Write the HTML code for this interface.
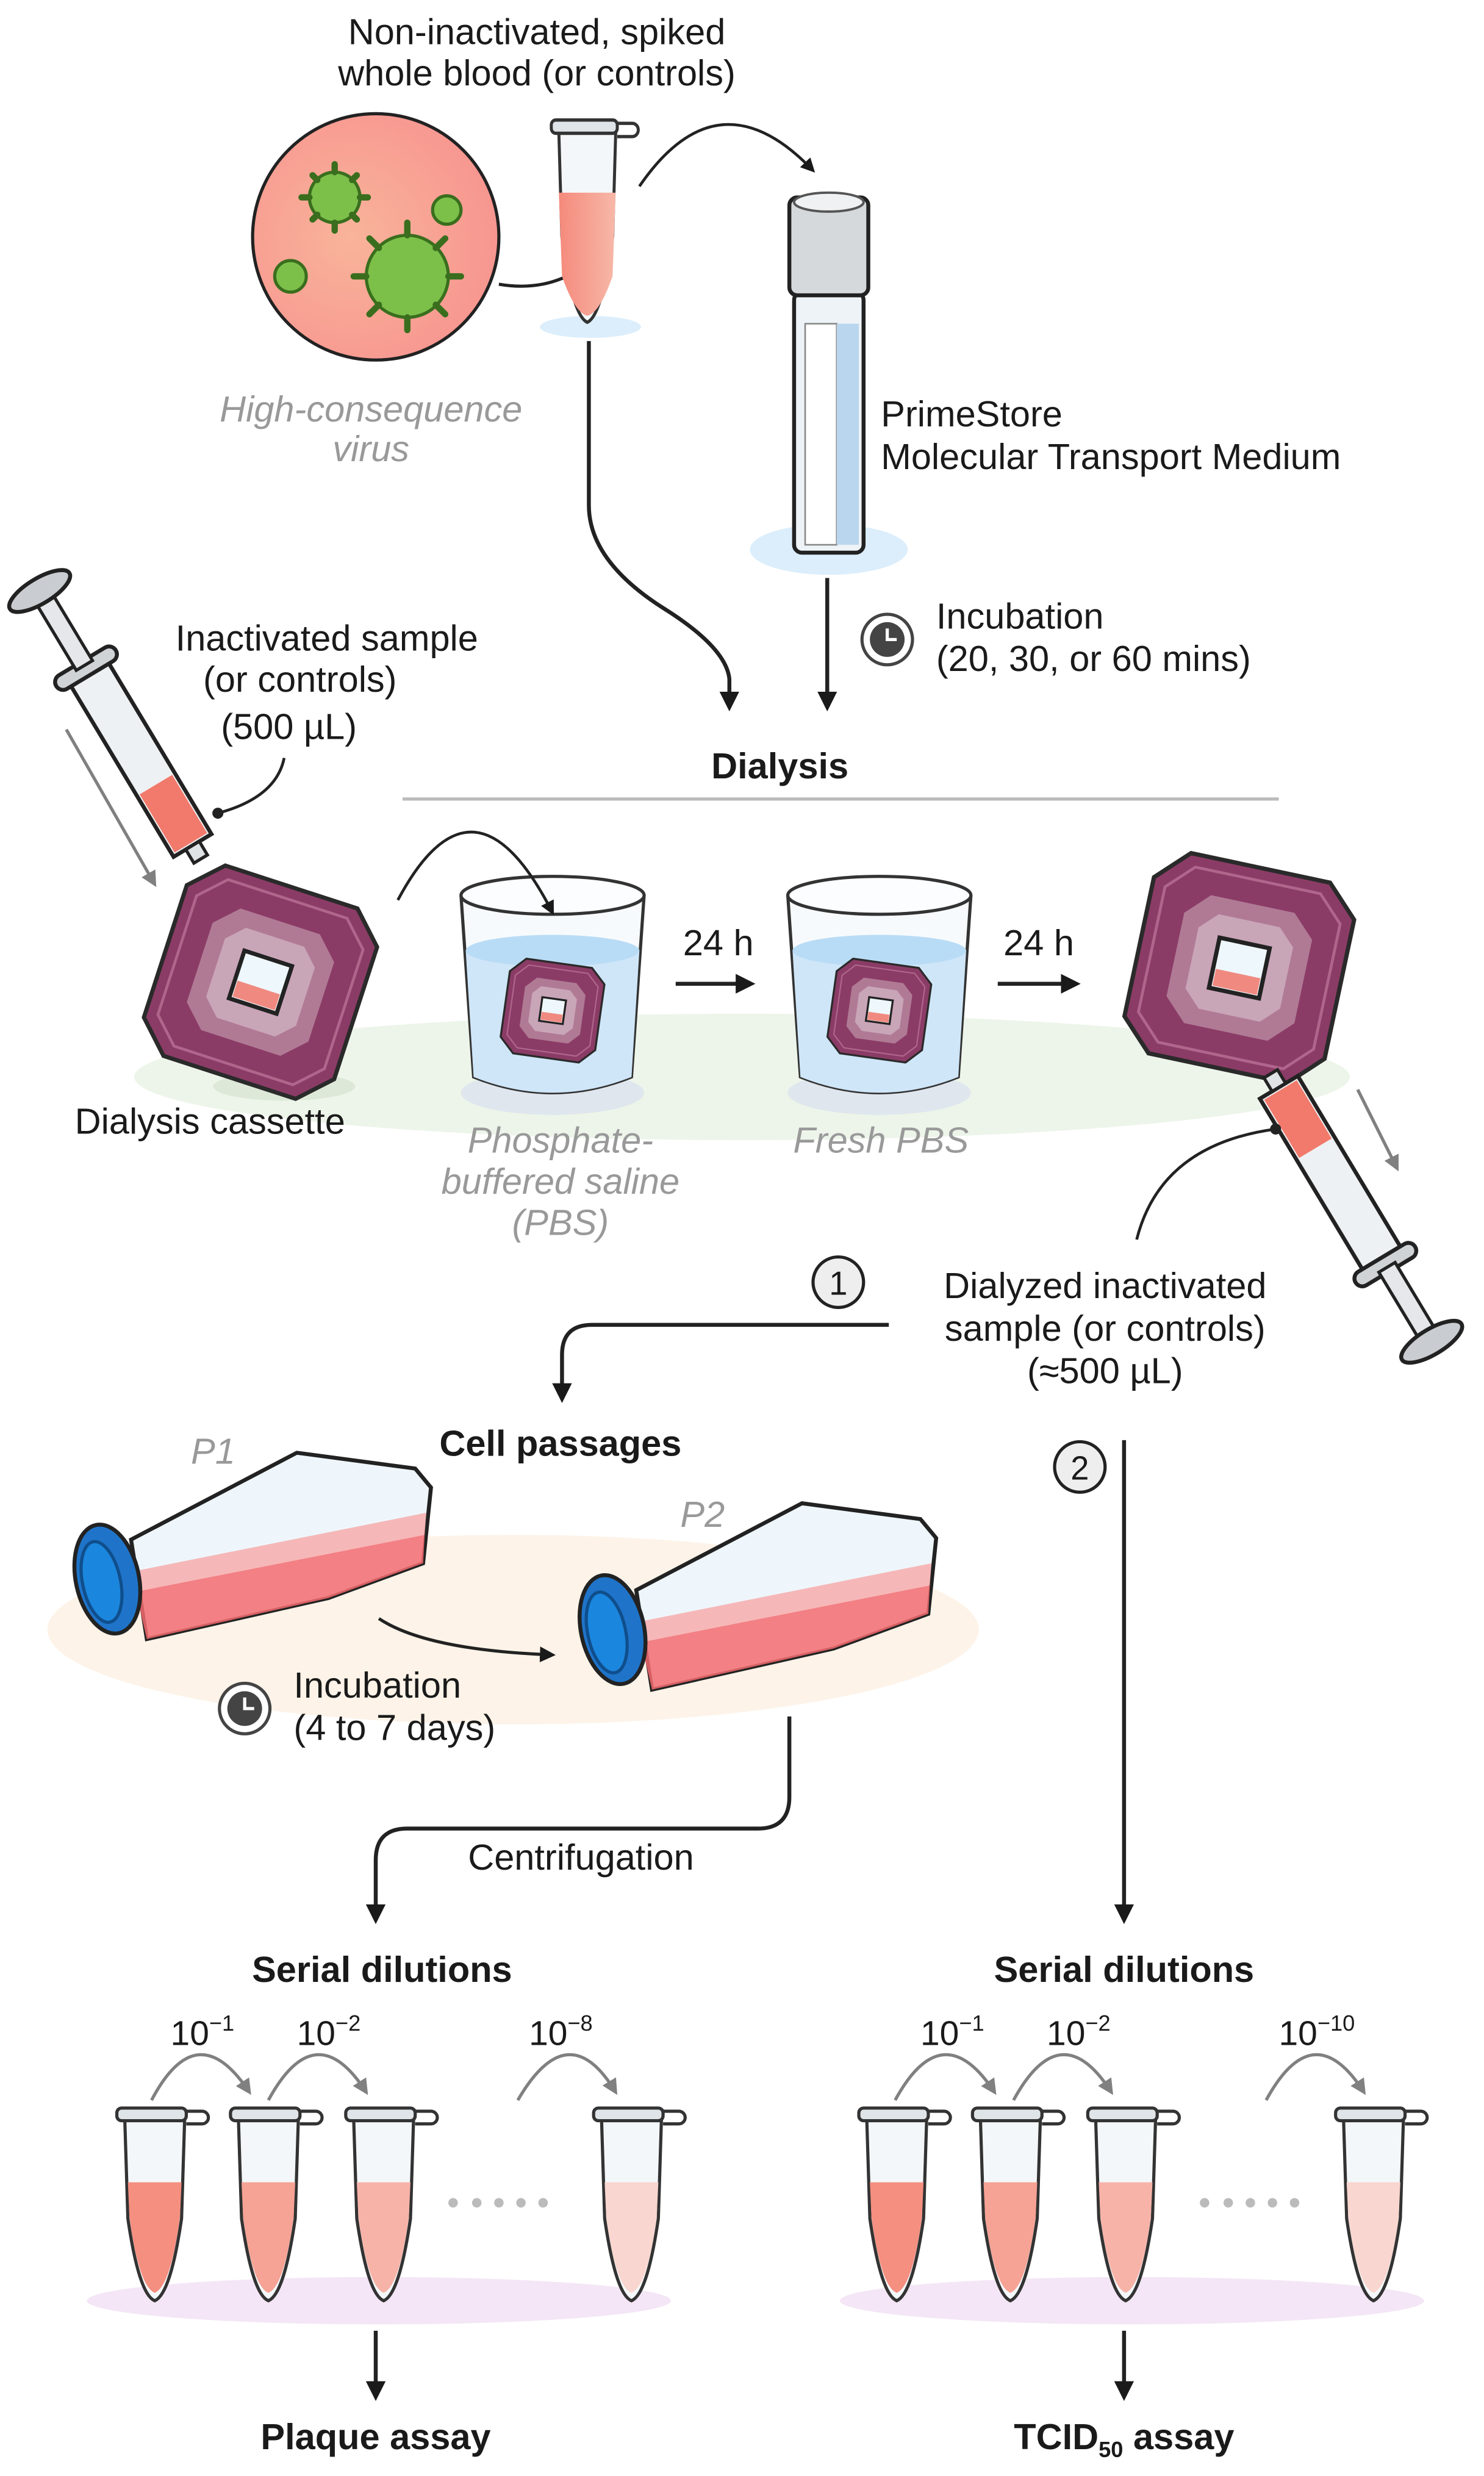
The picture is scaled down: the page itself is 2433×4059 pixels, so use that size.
<!DOCTYPE html>
<html><head><meta charset="utf-8">
<style>
html,body{margin:0;padding:0;background:#fff;}
svg{display:block;}
text{font-family:"Liberation Sans",Arial,sans-serif;}
</style></head>
<body>
<svg width="2433" height="4059" viewBox="0 0 940 1568" preserveAspectRatio="none" xmlns="http://www.w3.org/2000/svg">
<defs>
  <radialGradient id="vir" cx="0.4" cy="0.5" r="0.6"><stop offset="0" stop-color="#f9b49a"/><stop offset="1" stop-color="#f79690"/></radialGradient>
  <linearGradient id="liq" x1="0" x2="1"><stop offset="0" stop-color="#f58a7c"/><stop offset="1" stop-color="#f7b8a8"/></linearGradient>
  <marker id="ah" viewBox="0 0 10 10" refX="8" refY="5" markerWidth="5" markerHeight="5" orient="auto"><path d="M0,0 L10,5 L0,10 z" fill="#1a1a1a"/></marker>
  <marker id="ahg" viewBox="0 0 10 10" refX="8" refY="5" markerWidth="5" markerHeight="5" orient="auto"><path d="M0,0 L10,5 L0,10 z" fill="#808080"/></marker>
  <g id="tube">
    <path d="M-19,6 L19,6 L17,70 Q10,118 0,122 Q-10,118 -17,70 Z" fill="#f4f7f9" stroke="#333" stroke-width="2"/>
    <rect x="-24" y="0" width="44" height="8" rx="3" fill="#dfe4e8" stroke="#333" stroke-width="2"/>
    <path d="M20,2 h10 a4,4 0 0 1 0,8 h-10" fill="none" stroke="#333" stroke-width="2"/>
  </g>
  <g id="cass">
    <polygon points="-50,-72 50,-72 72,-50 72,50 50,72 -50,72 -72,50 -72,-50" fill="#8b3c66" stroke="#2a2a2a" stroke-width="3"/>
    <polygon points="-45,-63 45,-63 63,-45 63,45 45,63 -45,63 -63,45 -63,-45" fill="none" stroke="#b0668c" stroke-width="2"/>
    <polygon points="-30,-46 30,-46 46,-30 46,30 30,46 -30,46 -46,30 -46,-30" fill="#b07a95"/>
    <polygon points="-22,-34 22,-34 34,-22 34,22 22,34 -22,34 -34,22 -34,-22" fill="#c9a5b8"/>
    <rect x="-18" y="-18" width="36" height="36" fill="#eef7fc" stroke="#222" stroke-width="3"/>
    <rect x="-16" y="4" width="32" height="12" fill="#f08a80"/>
  </g>
  <g id="flask">
    <path d="M15,-25 L120,-80 L195,-70 L205,-58 L200,-10 L140,12 L25,38 Z" fill="#eef6fb" stroke="#222" stroke-width="2.5"/>
    <path d="M18,8 L201,-28 L200,-10 L140,12 L25,38 Z" fill="#f36b6e" opacity="0.85"/>
    <path d="M17,-5 L202,-42 L201,-28 L18,8 Z" fill="#f7a8a8" opacity="0.8"/>
    <ellipse cx="0" cy="0" rx="20" ry="35" fill="#1f74c9" stroke="#222" stroke-width="2.5" transform="rotate(-12)"/>
    <ellipse cx="-4" cy="1" rx="12" ry="26" fill="#1b86dd" stroke="#0f4e8c" stroke-width="2" transform="rotate(-12)"/>
  </g>
  <g id="clock">
    <circle r="16" fill="#fff" stroke="#444" stroke-width="2"/>
    <circle r="11" fill="#444"/>
    <path d="M0,-7 V0 H6" stroke="#fff" stroke-width="2" fill="none"/>
  </g>
  <g id="beaker">
    <ellipse cx="60" cy="140" rx="58" ry="14" fill="#dfe6ee"/>
    <path d="M2,15 L10,130 Q60,150 110,130 L118,15" fill="#f7fafc" stroke="#333" stroke-width="2"/>
    <path d="M5,50 L10,130 Q60,150 110,130 L115,50 Q60,62 5,50 Z" fill="#cfe6f8"/>
    <ellipse cx="60" cy="50" rx="55" ry="10" fill="#b9dcf6"/>
    <ellipse cx="60" cy="15" rx="58" ry="12" fill="#fbfdfe" stroke="#333" stroke-width="2"/>
    <g transform="translate(60,88) rotate(8) scale(0.42)"><use href="#cass"/></g>
  </g>
  <g id="syr">
    <rect x="-14" y="0" width="28" height="130" fill="#eef1f3" stroke="#222" stroke-width="2.5"/>
    <rect x="-12" y="85" width="24" height="43" fill="#f27a6c"/>
    <rect x="-22" y="-6" width="44" height="10" rx="5" fill="#d0d3d6" stroke="#222" stroke-width="2.5"/>
    <rect x="-6" y="-55" width="12" height="52" fill="#e5e7ea" stroke="#222" stroke-width="2"/>
    <ellipse cx="0" cy="-58" rx="22" ry="8" fill="#c9ccd0" stroke="#222" stroke-width="2.5"/>
    <rect x="-5" y="130" width="10" height="10" fill="#e0e3e6" stroke="#222" stroke-width="2"/>
  </g>
</defs>

<text x="340" y="28" font-size="23" text-anchor="middle" fill="#1a1a1a">Non-inactivated, spiked</text>
<text x="340" y="54" font-size="23" text-anchor="middle" fill="#1a1a1a">whole blood (or controls)</text>

<circle cx="238" cy="150" r="78" fill="url(#vir)" stroke="#222" stroke-width="2"/>
<g fill="#7cc04a" stroke="#3a6e1e" stroke-width="2">
  <circle cx="258" cy="175" r="26"/><circle cx="212" cy="125" r="16"/><circle cx="283" cy="133" r="9"/><circle cx="184" cy="175" r="10"/>
</g>
<g stroke="#3a6e1e" stroke-width="4" stroke-linecap="round">
  <path d="M258,141 v8 M258,201 v8 M224,175 h8 M284,175 h8 M234,151 l6,6 M282,151 l-6,6 M234,199 l6,-6 M282,199 l-6,-6"/>
  <path d="M212,104 v5 M212,141 v5 M191,125 h5 M228,125 h5 M198,111 l3,3 M226,111 l-3,3 M198,139 l3,-3 M226,139 l-3,-3"/>
</g>
<path d="M316,180 Q345,185 368,170" fill="none" stroke="#222" stroke-width="2"/>
<circle cx="368" cy="170" r="3" fill="#222"/>
<text x="235" y="267" font-size="23" text-anchor="middle" fill="#999" font-style="italic">High-consequence</text>
<text x="235" y="292" font-size="23" text-anchor="middle" fill="#999" font-style="italic">virus</text>

<ellipse cx="374" cy="207" rx="32" ry="7" fill="#dceefb"/>
<g transform="translate(372,76) scale(0.95,1.05)"><use href="#tube"/></g>
<path d="M354,122 L390,122 L388,175 Q380,198 372,200 Q364,198 356,175 Z" fill="url(#liq)"/>

<path d="M405,118 Q455,45 515,108" fill="none" stroke="#222" stroke-width="1.8" marker-end="url(#ah)"/>

<ellipse cx="525" cy="348" rx="50" ry="16" fill="#dceefb"/>
<rect x="503" y="185" width="44" height="165" rx="5" fill="#eef3f7" stroke="#222" stroke-width="2.5"/>
<rect x="510" y="205" width="20" height="140" fill="#fff" stroke="#888" stroke-width="1"/>
<rect x="530" y="205" width="14" height="140" fill="#b9d6ee"/>
<rect x="500" y="125" width="50" height="62" rx="5" fill="#d6d9dc" stroke="#222" stroke-width="2.5"/>
<ellipse cx="525" cy="128" rx="22" ry="6" fill="#f0f1f2" stroke="#555" stroke-width="1.5"/>
<text x="558" y="270" font-size="23" fill="#1a1a1a">PrimeStore</text>
<text x="558" y="297" font-size="23" fill="#1a1a1a">Molecular Transport Medium</text>

<path d="M373,216 V320 Q373,355 420,385 Q460,410 462,430 V448" fill="none" stroke="#222" stroke-width="2.5" marker-end="url(#ah)"/>
<line x1="524" y1="366" x2="524" y2="448" stroke="#222" stroke-width="2.5" marker-end="url(#ah)"/>
<use href="#clock" x="562" y="405"/>
<text x="593" y="398" font-size="23" fill="#1a1a1a">Incubation</text>
<text x="593" y="425" font-size="23" fill="#1a1a1a">(20, 30, or 60 mins)</text>

<text x="494" y="493" font-size="23" font-weight="bold" text-anchor="middle" fill="#1a1a1a">Dialysis</text>
<line x1="255" y1="506" x2="810" y2="506" stroke="#bbb" stroke-width="2"/>

<ellipse cx="470" cy="682" rx="385" ry="40" fill="#edf5ea"/>
<ellipse cx="180" cy="688" rx="45" ry="9" fill="#dde8d8"/>
<g transform="translate(165,622) rotate(18) scale(0.88)"><use href="#cass"/></g>
<g transform="translate(55,424) rotate(-31)"><use href="#syr"/></g>
<line x1="42" y1="462" x2="98" y2="560" stroke="#808080" stroke-width="2" marker-end="url(#ahg)"/>
<path d="M180,480 Q175,505 138,515" fill="none" stroke="#222" stroke-width="1.8"/>
<circle cx="138" cy="515" r="3.5" fill="#222"/>
<text x="207" y="412" font-size="23" text-anchor="middle" fill="#1a1a1a">Inactivated sample</text>
<text x="190" y="438" font-size="23" text-anchor="middle" fill="#1a1a1a">(or controls)</text>
<text x="183" y="468" font-size="23" text-anchor="middle" fill="#1a1a1a">(500 µL)</text>
<text x="133" y="718" font-size="23" text-anchor="middle" fill="#1a1a1a">Dialysis cassette</text>

<use href="#beaker" x="290" y="552"/>
<use href="#beaker" x="497" y="552"/>
<path d="M252,570 Q300,480 350,578" fill="none" stroke="#222" stroke-width="1.8" marker-end="url(#ah)"/>
<text x="455" y="605" font-size="23" text-anchor="middle" fill="#1a1a1a">24 h</text>
<line x1="428" y1="623" x2="476" y2="623" stroke="#222" stroke-width="2.5" marker-end="url(#ah)"/>
<text x="658" y="605" font-size="23" text-anchor="middle" fill="#1a1a1a">24 h</text>
<line x1="632" y1="623" x2="682" y2="623" stroke="#222" stroke-width="2.5" marker-end="url(#ah)"/>
<text x="355" y="730" font-size="23" text-anchor="middle" fill="#999" font-style="italic">Phosphate-</text>
<text x="355" y="756" font-size="23" text-anchor="middle" fill="#999" font-style="italic">buffered saline</text>
<text x="355" y="782" font-size="23" text-anchor="middle" fill="#999" font-style="italic">(PBS)</text>
<text x="558" y="730" font-size="23" text-anchor="middle" fill="#999" font-style="italic">Fresh PBS</text>

<g transform="translate(785,613) rotate(12) scale(0.9)"><use href="#cass"/></g>
<g transform="translate(877,800) rotate(149)"><use href="#syr"/></g>
<line x1="860" y1="690" x2="885" y2="740" stroke="#808080" stroke-width="2" marker-end="url(#ahg)"/>
<path d="M720,785 Q735,725 808,715" fill="none" stroke="#222" stroke-width="1.8"/>
<circle cx="808" cy="715" r="3.5" fill="#222"/>

<circle cx="531" cy="812" r="16" fill="#eee" stroke="#222" stroke-width="2"/>
<text x="531" y="820" font-size="21" text-anchor="middle" fill="#1a1a1a">1</text>
<text x="700" y="822" font-size="23" text-anchor="middle" fill="#1a1a1a">Dialyzed inactivated</text>
<text x="700" y="849" font-size="23" text-anchor="middle" fill="#1a1a1a">sample (or controls)</text>
<text x="700" y="876" font-size="23" text-anchor="middle" fill="#1a1a1a">(≈500 µL)</text>
<path d="M563,839 H375 Q356,839 356,858 V886" fill="none" stroke="#222" stroke-width="2.5" marker-end="url(#ah)"/>
<text x="355" y="922" font-size="23" font-weight="bold" text-anchor="middle" fill="#1a1a1a">Cell passages</text>
<circle cx="684" cy="929" r="16" fill="#eee" stroke="#222" stroke-width="2"/>
<text x="684" y="937" font-size="21" text-anchor="middle" fill="#1a1a1a">2</text>
<line x1="712" y1="912" x2="712" y2="1216" stroke="#222" stroke-width="2.5" marker-end="url(#ah)"/>

<ellipse cx="325" cy="1032" rx="295" ry="60" fill="#fdf3e8"/>
<text x="135" y="927" font-size="23" fill="#999" font-style="italic" text-anchor="middle">P1</text>
<text x="445" y="967" font-size="23" fill="#999" font-style="italic" text-anchor="middle">P2</text>
<g transform="translate(68,1000)"><use href="#flask"/></g>
<g transform="translate(388,1032)"><use href="#flask"/></g>
<path d="M240,1025 Q270,1045 350,1048" fill="none" stroke="#222" stroke-width="2" marker-end="url(#ah)"/>
<use href="#clock" x="155" y="1082"/>
<text x="186" y="1075" font-size="23" fill="#1a1a1a">Incubation</text>
<text x="186" y="1102" font-size="23" fill="#1a1a1a">(4 to 7 days)</text>
<path d="M500,1087 V1138 Q500,1158 480,1158 H258 Q238,1158 238,1178 V1216" fill="none" stroke="#222" stroke-width="2.5" marker-end="url(#ah)"/>
<text x="368" y="1184" font-size="23" text-anchor="middle" fill="#1a1a1a">Centrifugation</text>

<text x="242" y="1255" font-size="23" font-weight="bold" text-anchor="middle" fill="#1a1a1a">Serial dilutions</text>
<text x="712" y="1255" font-size="23" font-weight="bold" text-anchor="middle" fill="#1a1a1a">Serial dilutions</text>
<ellipse cx="240" cy="1457" rx="185" ry="15" fill="#f4e6f6"/>
<ellipse cx="717" cy="1457" rx="185" ry="15" fill="#f4e6f6"/>
<g fill="#1a1a1a" font-size="22">
<text x="108" y="1295">10<tspan font-size="14" dy="-9">−1</tspan></text>
<text x="188" y="1295">10<tspan font-size="14" dy="-9">−2</tspan></text>
<text x="335" y="1295">10<tspan font-size="14" dy="-9">−8</tspan></text>
<text x="583" y="1295">10<tspan font-size="14" dy="-9">−1</tspan></text>
<text x="663" y="1295">10<tspan font-size="14" dy="-9">−2</tspan></text>
<text x="810" y="1295">10<tspan font-size="14" dy="-9">−10</tspan></text>
</g>
<g fill="none" stroke="#808080" stroke-width="2" marker-end="url(#ahg)">
<path d="M96,1330 Q125,1275 158,1325"/><path d="M170,1330 Q200,1275 232,1325"/><path d="M328,1330 Q360,1275 390,1325"/>
<path d="M567,1330 Q597,1275 630,1325"/><path d="M642,1330 Q672,1275 704,1325"/><path d="M802,1330 Q832,1275 864,1325"/>
</g>
<g>
<use href="#tube" x="98" y="1335"/><use href="#tube" x="170" y="1335"/><use href="#tube" x="243" y="1335"/><use href="#tube" x="400" y="1335"/>
<use href="#tube" x="568" y="1335"/><use href="#tube" x="640" y="1335"/><use href="#tube" x="713" y="1335"/><use href="#tube" x="870" y="1335"/>
</g>
<g>
<path d="M81,1382 h34 l-1,22 Q108,1448 98,1452 Q88,1448 82,1404 Z" fill="#f58f80"/>
<path d="M153,1382 h34 l-1,22 Q180,1448 170,1452 Q160,1448 154,1404 Z" fill="#f6a294"/>
<path d="M226,1382 h34 l-1,22 Q253,1448 243,1452 Q233,1448 227,1404 Z" fill="#f7b3a8"/>
<path d="M383,1382 h34 l-1,22 Q410,1448 400,1452 Q390,1448 384,1404 Z" fill="#f9d6cf"/>
<path d="M551,1382 h34 l-1,22 Q578,1448 568,1452 Q558,1448 552,1404 Z" fill="#f58f80"/>
<path d="M623,1382 h34 l-1,22 Q650,1448 640,1452 Q630,1448 624,1404 Z" fill="#f6a294"/>
<path d="M696,1382 h34 l-1,22 Q723,1448 713,1452 Q703,1448 697,1404 Z" fill="#f7b3a8"/>
<path d="M853,1382 h34 l-1,22 Q880,1448 870,1452 Q860,1448 854,1404 Z" fill="#f9d6cf"/>
</g>
<g fill="#bbb"><circle cx="287" cy="1395" r="3"/><circle cx="302" cy="1395" r="3"/><circle cx="316" cy="1395" r="3"/><circle cx="330" cy="1395" r="3"/><circle cx="344" cy="1395" r="3"/>
<circle cx="763" cy="1395" r="3"/><circle cx="778" cy="1395" r="3"/><circle cx="792" cy="1395" r="3"/><circle cx="806" cy="1395" r="3"/><circle cx="820" cy="1395" r="3"/></g>

<line x1="238" y1="1476" x2="238" y2="1518" stroke="#222" stroke-width="2.5" marker-end="url(#ah)"/>
<line x1="712" y1="1476" x2="712" y2="1518" stroke="#222" stroke-width="2.5" marker-end="url(#ah)"/>
<text x="238" y="1551" font-size="23" font-weight="bold" text-anchor="middle" fill="#1a1a1a">Plaque assay</text>
<text x="712" y="1551" font-size="23" font-weight="bold" text-anchor="middle" fill="#1a1a1a">TCID<tspan font-size="14" dy="5">50</tspan><tspan dy="-5"> assay</tspan></text>
</svg>
</body></html>
